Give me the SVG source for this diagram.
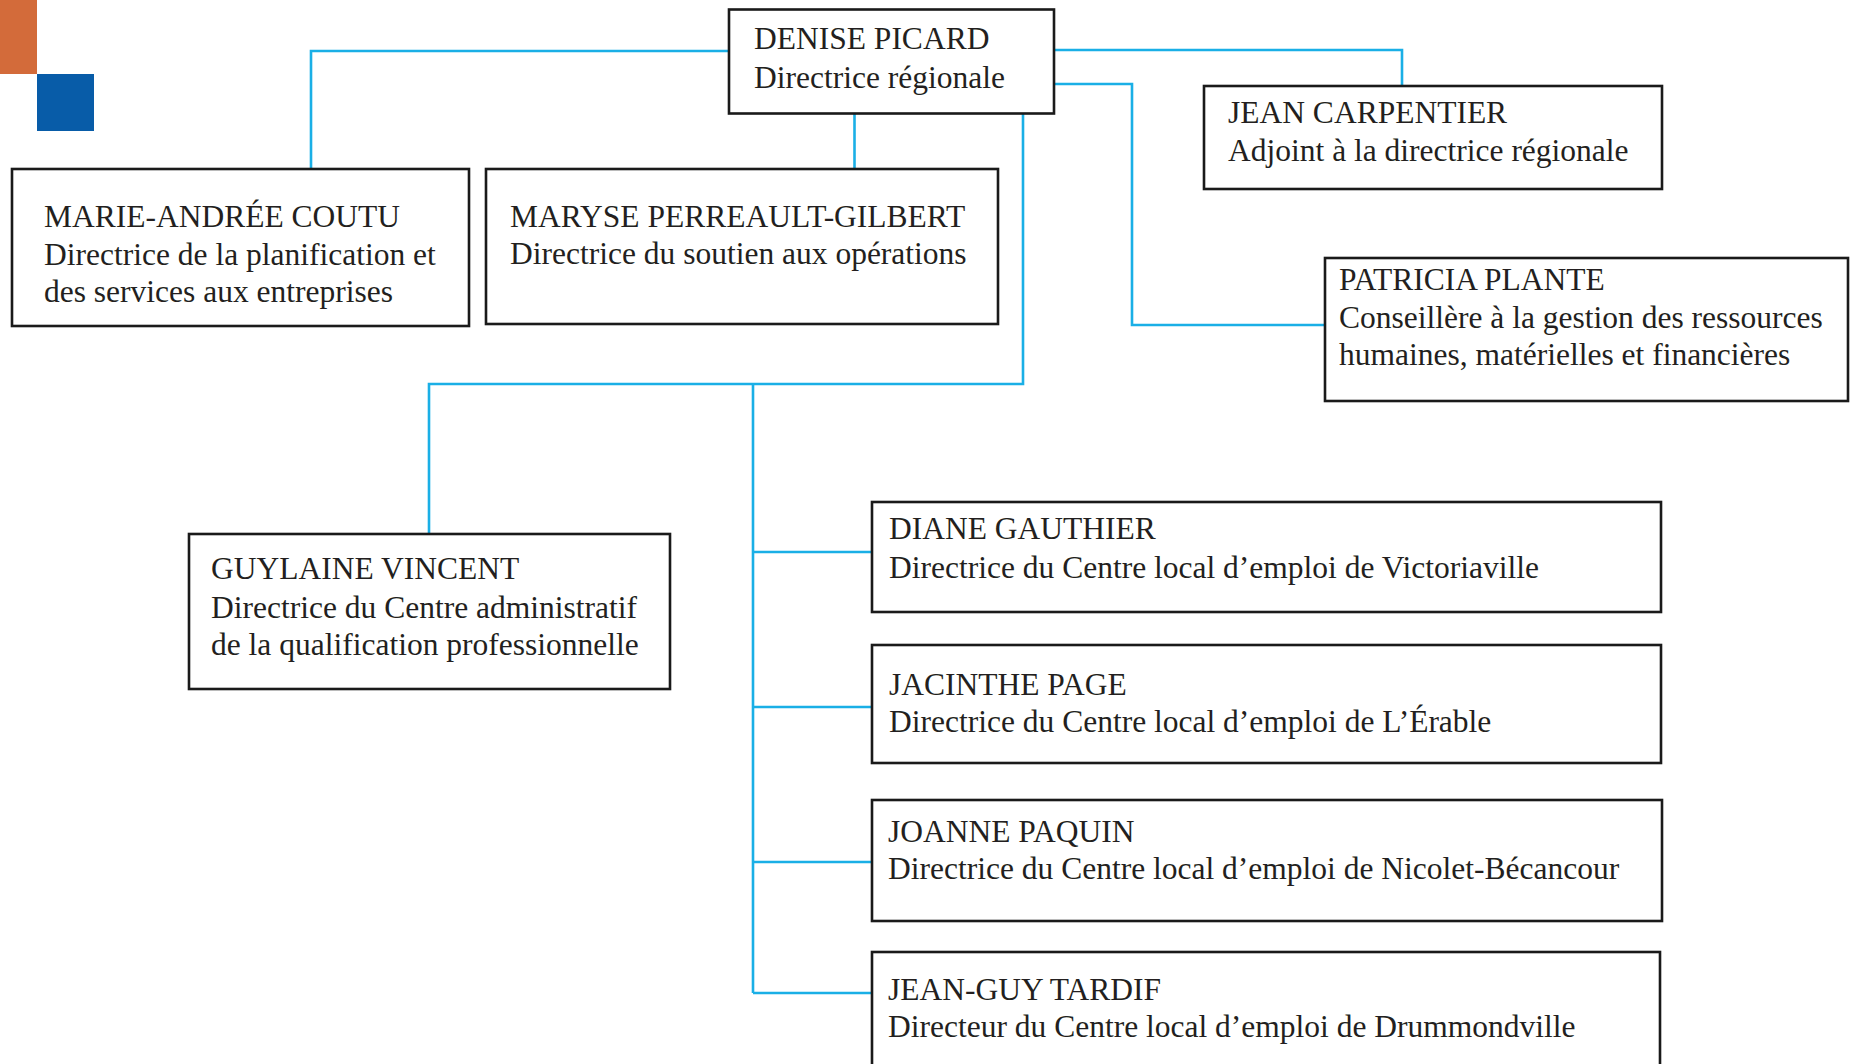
<svg xmlns="http://www.w3.org/2000/svg" width="1855" height="1064" viewBox="0 0 1855 1064">
<style>
.box{fill:#fff;stroke:#1a1a1a;stroke-width:2.6}
.t{font-family:"Liberation Serif","Times New Roman",serif;font-size:31.5px;fill:#231f20}
.c{fill:none;stroke:#1aafe6;stroke-width:2.6}
</style>
<rect width="1855" height="1064" fill="#fff"/>
<rect x="0" y="0" width="37" height="74" fill="#d36b3a"/>
<rect x="37" y="74" width="57" height="57" fill="#085ca8"/>
<g id="connectors">
<path class="c" d="M729,51 H311 V169"/>
<path class="c" d="M1054,50 H1402 V86"/>
<path class="c" d="M1054,84 H1132 V325 H1325"/>
<path class="c" d="M854.5,113 V169"/>
<path class="c" d="M1023,113 V384 H429 V534"/>
<path class="c" d="M753,384 V993"/>
<path class="c" d="M753,552 H872 M753,707 H872 M753,862 H872 M753,993 H872"/>
</g>
<g id="denise"><rect class="box" x="729" y="9.5" width="325" height="104"/>
<text class="t" x="754" y="49">DENISE PICARD</text><text class="t" x="754" y="88">Directrice régionale</text></g>
<g id="marie"><rect class="box" x="12" y="169" width="457" height="157"/>
<text class="t" x="44" y="227">MARIE-ANDRÉE COUTU</text><text class="t" x="44" y="265">Directrice de la planification et</text><text class="t" x="44" y="302">des services aux entreprises</text></g>
<g id="maryse"><rect class="box" x="486" y="169" width="512" height="155"/>
<text class="t" x="510" y="227">MARYSE PERREAULT-GILBERT</text><text class="t" x="510" y="264">Directrice du soutien aux opérations</text></g>
<g id="jean"><rect class="box" x="1204" y="86" width="458" height="103"/>
<text class="t" x="1228" y="123">JEAN CARPENTIER</text><text class="t" x="1228" y="161">Adjoint à la directrice régionale</text></g>
<g id="patricia"><rect class="box" x="1325" y="258" width="523" height="143"/>
<text class="t" x="1339" y="290">PATRICIA PLANTE</text><text class="t" x="1339" y="328">Conseillère à la gestion des ressources</text><text class="t" x="1339" y="365">humaines, matérielles et financières</text></g>
<g id="guylaine"><rect class="box" x="189" y="534" width="481" height="155"/>
<text class="t" x="211" y="579">GUYLAINE VINCENT</text><text class="t" x="211" y="618">Directrice du Centre administratif</text><text class="t" x="211" y="655">de la qualification professionnelle</text></g>
<g id="diane"><rect class="box" x="872" y="502" width="789" height="110"/>
<text class="t" x="889" y="539">DIANE GAUTHIER</text><text class="t" x="889" y="578">Directrice du Centre local d’emploi de Victoriaville</text></g>
<g id="jacinthe"><rect class="box" x="872" y="645" width="789" height="118"/>
<text class="t" x="889" y="695">JACINTHE PAGE</text><text class="t" x="889" y="732">Directrice du Centre local d’emploi de L’Érable</text></g>
<g id="joanne"><rect class="box" x="872" y="800" width="790" height="121"/>
<text class="t" x="888" y="842">JOANNE PAQUIN</text><text class="t" x="888" y="879">Directrice du Centre local d’emploi de Nicolet-Bécancour</text></g>
<g id="jeanguy"><rect class="box" x="872" y="952" width="788" height="130"/>
<text class="t" x="888" y="1000">JEAN-GUY TARDIF</text><text class="t" x="888" y="1037">Directeur du Centre local d’emploi de Drummondville</text></g>
</svg>
